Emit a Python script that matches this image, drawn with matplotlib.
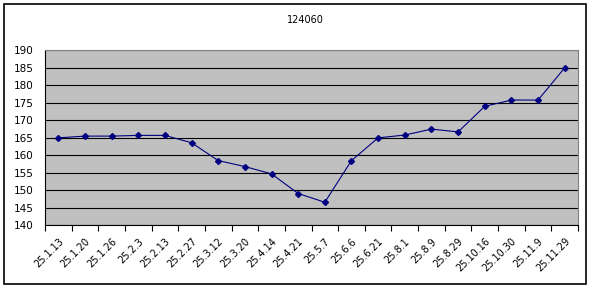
import matplotlib.pyplot as plt
from matplotlib.patches import Rectangle
import numpy as np

dates = ['25.1.13', '25.1.20', '25.1.26', '25.2.3', '25.2.13', '25.2.27', '25.3.12',
         '25.3.20', '25.4.14', '25.4.21', '25.5.7', '25.6.6', '25.6.21', '25.8.1',
         '25.8.9', '25.8.29', '25.10.16', '25.10.30', '25.11.9', '25.11.29']
values = [164.9, 165.4, 165.4, 165.6, 165.6, 163.5, 158.4, 156.7, 154.6, 149.0,
          146.5, 158.4, 164.9, 165.7, 167.4, 166.6, 173.9, 175.7, 175.7, 184.9]
title = '124060'

plt.rcParams['font.family'] = ['DejaVu Sans']
fig = plt.figure(figsize=(5.92, 2.88), dpi=100)
fig.patches.append(Rectangle((4 / 592, 4 / 288), 582 / 592, 280 / 288, transform=fig.transFigure,
                             fill=False, edgecolor='black', linewidth=1.2))

ax = fig.add_axes([45 / 592, 1 - 225 / 288, 533 / 592, 175 / 288])
ax.set_facecolor('#c0c0c0')
x = np.arange(len(dates))
ax.plot(x, values, color='#000080', linewidth=0.8, marker='D', markersize=3)

ax.set_xlim(-0.5, len(dates) - 0.5)
ax.set_ylim(140, 190)
ax.set_yticks(np.arange(140, 191, 5))
ax.yaxis.grid(True, color='black', linewidth=0.8)
ax.set_axisbelow(True)
ax.tick_params(axis='y', length=0, labelsize=7.5, pad=8)

# category boundaries as tick marks, labels at centres
ax.set_xticks(np.arange(-0.5, len(dates), 1))
ax.set_xticklabels([])
ax.set_xticks(x, minor=True)
ax.set_xticklabels(dates, minor=True, rotation=45, ha='right', rotation_mode='anchor', fontsize=7)
ax.tick_params(axis='x', which='major', length=4, direction='out', color='black')
ax.tick_params(axis='x', which='minor', length=0, pad=8)

for s in ['top', 'right']:
    ax.spines[s].set_color('#808080')
ax.spines['left'].set_color('black')
ax.spines['bottom'].set_color('black')

fig.text(305 / 592, 1 - 20 / 288, title, ha='center', va='center', fontsize=7)

plt.savefig('out.png', dpi=100)
